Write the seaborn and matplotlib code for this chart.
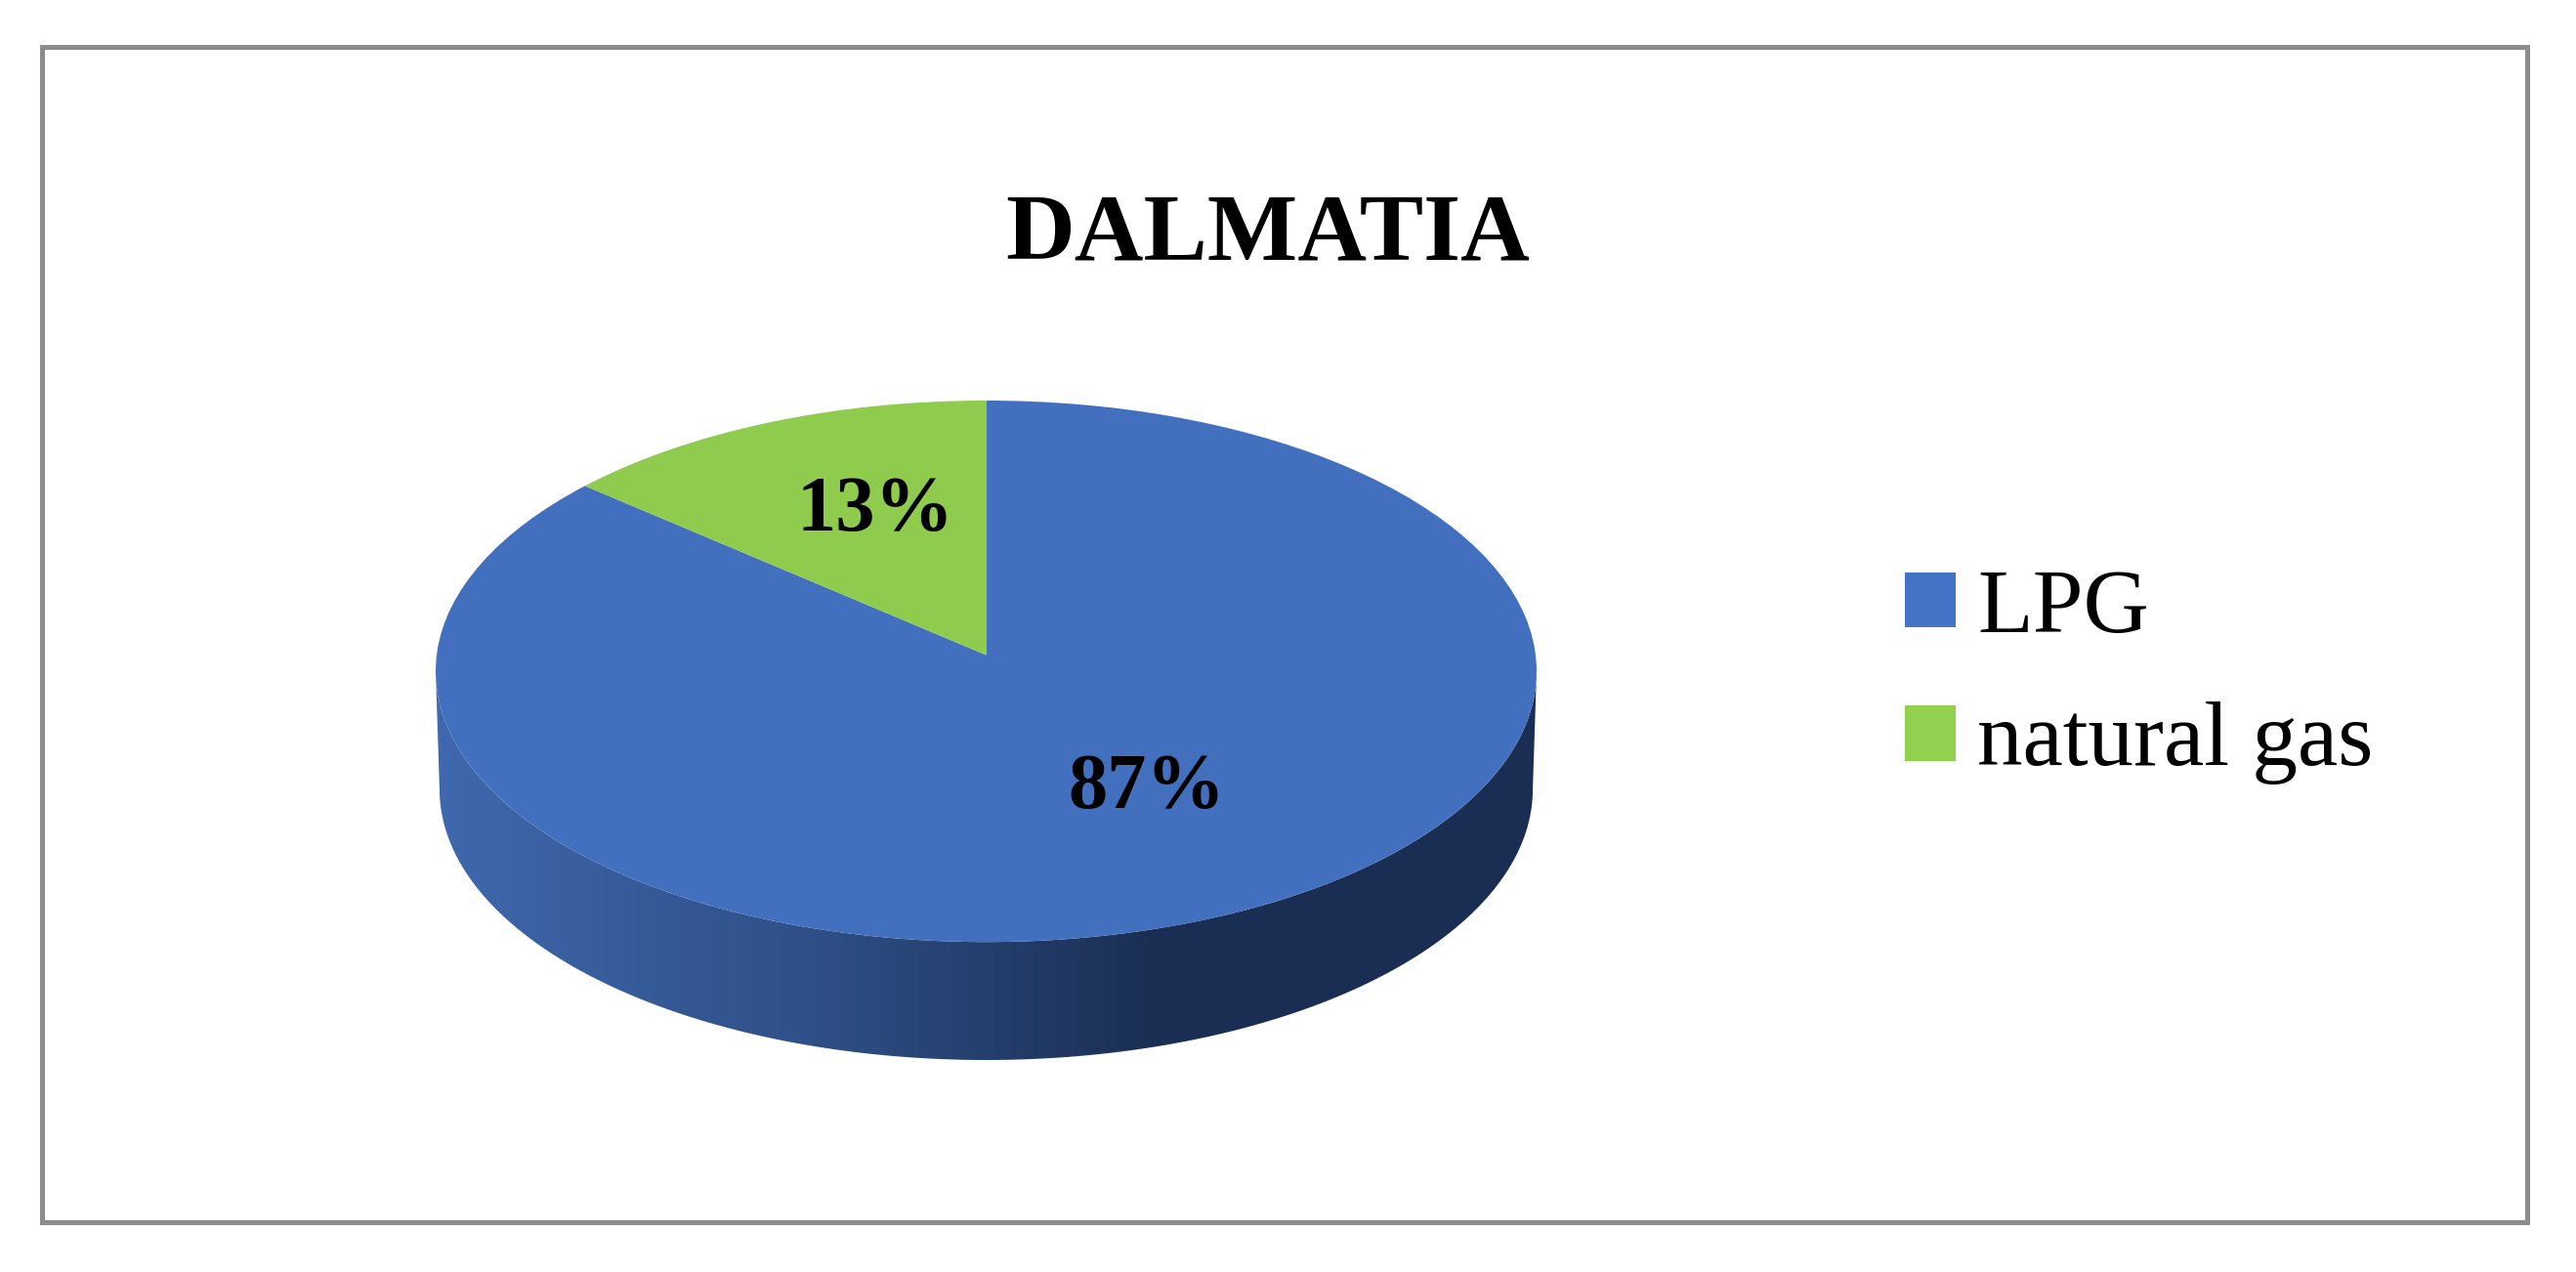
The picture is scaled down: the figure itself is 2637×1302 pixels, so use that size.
# DALMATIA 3D pie chart

import numpy as np
import matplotlib
matplotlib.use('Agg')
import matplotlib.pyplot as plt
from matplotlib.patches import Patch, PathPatch, Rectangle
from matplotlib.path import Path
import seaborn as sns

# ---- data ----
title = 'DALMATIA'
categories = ['LPG', 'natural gas']
shares = [87, 13]
top_colors = ['#4270BE', '#8FCB4D']
legend_colors = ['#4472C4', '#92D050']
side_colors = ['#3F68AE', '#2F5088', '#1A2D52', '#1A2D52']

sns.set_theme(style='white')
plt.rcParams['font.family'] = ['Liberation Serif', 'DejaVu Serif']

W, H = 2637, 1302
fig = plt.figure(figsize=(W / 100, H / 100), dpi=100, facecolor='white')

# background axes in pixel coords, for the frame and texts
bg = fig.add_axes([0, 0, 1, 1])
bg.set_xlim(0, W)
bg.set_ylim(H, 0)
bg.axis('off')
bg.add_patch(Rectangle((42.5, 47.5), 2544, 1203, fill=False,
                       edgecolor='#8C8C8C', linewidth=3.6))

# pie axes: x -1..1 is the ellipse width, y 1 is the top of the disc
left, right, top, bottom = 446, 1573, 410, 1085
depth = 0.436
ax = fig.add_axes([left / W, 1 - bottom / H, (right - left) / W, (bottom - top) / H])

wedges, _ = ax.pie(shares, colors=top_colors, startangle=90 + 3.6 * shares[1],
                   wedgeprops={'linewidth': 0})
ax.set_aspect('auto')
ax.set_xlim(-1, 1)
ax.set_ylim(-1 - depth, 1)
ax.axis('off')

# apex sits a bit above the middle of the ellipse in the original
for w in wedges:
    v = w.get_path().vertices
    v[np.all(np.abs(v) < 1e-9, axis=1), 1] = 0.06

# side wall with the left to right shading
t = np.linspace(np.pi, 2 * np.pi, 200)
upper = np.column_stack([np.cos(t), np.sin(t)])
lower = np.column_stack([0.993 * np.cos(t[::-1]), np.sin(t[::-1]) - depth])
side_path = Path(np.vstack([upper, lower, upper[:1]]), closed=True)
side_clip = PathPatch(side_path, transform=ax.transData, facecolor='none', edgecolor='none')
ax.add_patch(side_clip)
side_cmap = sns.blend_palette(side_colors, n_colors=256, as_cmap=True)
im = ax.imshow(np.linspace(0, 1, 256).reshape(1, -1), cmap=side_cmap, aspect='auto',
               extent=(-1, 1, -1 - depth, 0), zorder=0.5)
im.set_clip_path(side_clip)
ax.set_xlim(-1, 1)
ax.set_ylim(-1 - depth, 1)

# texts
fig.text(1298, 266, title, transform=bg.transData, ha='center', va='baseline',
         fontsize=70.5, fontweight='bold', color='black')
fig.text(1174, 827, f'{shares[0]}%', transform=bg.transData, ha='center', va='baseline',
         fontsize=58, fontweight='bold', color='black')
fig.text(896, 543, f'{shares[1]}%', transform=bg.transData, ha='center', va='baseline',
         fontsize=58, fontweight='bold', color='black')

# legend
handles = [Patch(facecolor=c, edgecolor='none') for c in legend_colors]
fig.legend(handles, categories, loc='upper left', bbox_to_anchor=(1950 / W, 1 - 582 / H),
           frameon=False, fontsize=67, labelcolor='black', handlelength=0.56, handleheight=0.56,
           handletextpad=0.24, labelspacing=0.55, borderpad=0, borderaxespad=0)

fig.savefig('out.png', dpi=100)
